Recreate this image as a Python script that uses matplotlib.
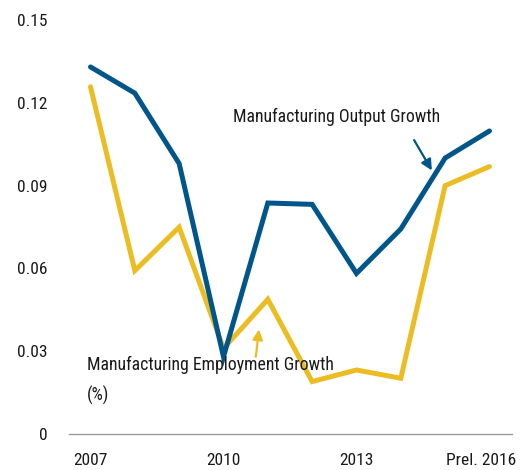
import matplotlib
matplotlib.use("Agg")
import matplotlib.pyplot as plt
from matplotlib import font_manager, transforms

years = [2007, 2008, 2009, 2010, 2011, 2012, 2013, 2014, 2015, 2016]
output_growth = [0.133, 0.1235, 0.098, 0.028, 0.0837, 0.0832, 0.0582, 0.0743, 0.1, 0.1098]
employment_growth = [0.1258, 0.0592, 0.0749, 0.031, 0.0488, 0.019, 0.0232, 0.0202, 0.09, 0.0969]
xtick_vals = [2007, 2010, 2013, 2016]
xtick_labels = ["2007", "2010", "2013", "Prel. 2016"]
ytick_vals = [0, 0.03, 0.06, 0.09, 0.12, 0.15]
ytick_labels = ["0", "0.03", "0.06", "0.09", "0.12", "0.15"]

names = {f.name for f in font_manager.fontManager.ttflist}
fam = "Liberation Sans"
for cand in ["Roboto Condensed", "Liberation Sans Narrow", "Arial Narrow", "Open Sans Condensed",
             "Noto Sans Condensed", "DejaVu Sans Condensed"]:
    if cand in names:
        fam = cand
        break
plt.rcParams["font.family"] = [fam, "DejaVu Sans"]

BLUE = "#00568A"
YELLOW = "#EBBD22"
TXT = "#1a1a1a"

fig = plt.figure(figsize=(5.22, 4.70), dpi=100)
ax = fig.add_axes([0.1326, 0.0766, 0.8484, 0.8808])

ax.plot(years, output_growth, color=BLUE, lw=3.6, solid_capstyle="round", solid_joinstyle="miter", zorder=3)
ax.plot(years, employment_growth, color=YELLOW, lw=3.6, solid_capstyle="round", solid_joinstyle="miter", zorder=2)

ax.set_xlim(2006.52, 2016.51)
ax.set_ylim(0, 0.15)
ax.set_xticks(xtick_vals)
ax.set_xticklabels(xtick_labels)
ax.set_yticks(ytick_vals)
ax.set_yticklabels(ytick_labels)
ax.tick_params(axis="both", length=0, labelsize=12.5, colors=TXT)
ax.tick_params(axis="x", pad=14)
ax.tick_params(axis="y", pad=15.5)
for s in ["top", "right", "left"]:
    ax.spines[s].set_visible(False)
ax.spines["bottom"].set_color("#9a9a9a")
ax.spines["bottom"].set_linewidth(1.0)

last = ax.get_xticklabels()[-1]
last.set_transform(last.get_transform() + transforms.ScaledTranslation(-8 / 100, 0, fig.dpi_scale_trans))

# fit annotation font size to the reference text width
renderer = fig.canvas.get_renderer()
probe = fig.text(0, 0, "Manufacturing Output Growth", fontsize=13)
w = probe.get_window_extent(renderer).width
probe.remove()
fs = min(13.5, 13 * 207.0 / w)

ax.text(2010.21, 0.1149, "Manufacturing Output Growth", fontsize=fs, color=TXT, ha="left", va="center")
ax.annotate("", xy=(2014.70, 0.0955), xytext=(2014.30, 0.1065),
            arrowprops=dict(arrowstyle="-|>", color=BLUE, lw=1.6, mutation_scale=16, shrinkA=0, shrinkB=0))

ax.text(2006.92, 0.0250, "Manufacturing Employment Growth", fontsize=fs, color=TXT, ha="left", va="center")
ax.text(2006.92, 0.0138, "(%)", fontsize=fs, color=TXT, ha="left", va="center")
ax.annotate("", xy=(2010.80, 0.0379), xytext=(2010.73, 0.0280),
            arrowprops=dict(arrowstyle="-|>", color=YELLOW, lw=1.6, mutation_scale=15, shrinkA=0, shrinkB=0))

fig.savefig("out.png", dpi=100)
